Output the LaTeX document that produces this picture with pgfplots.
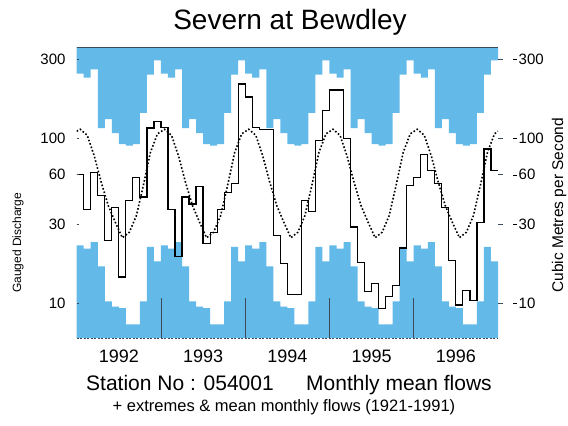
\documentclass[border=0pt]{standalone}
\usepackage{pgfplots}
\pgfplotsset{compat=1.18}
\usepackage{fontspec}
\setmainfont{Liberation Sans}
\definecolor{envblue}{RGB}{99,185,232}
\definecolor{framec}{RGB}{60,75,90}
\newcommand{\tdash}{\rule[0.3em]{4pt}{0.8pt}\hspace{1.5pt}}

\begin{document}
\begin{tikzpicture}[x=1pt,y=1pt]
\useasboundingbox (0,0) rectangle (568,426);
% data axis
\begin{axis}[at={(76.7pt,88pt)}, anchor=south west, scale only axis,
  width=421.3pt, height=290pt, ymode=log, xmin=0, xmax=60, ymin=6.2, ymax=350,
  axis on top,
  axis line style={draw=none},
  ytick=\empty,
  xtick={12,24,36,48}, xticklabels={},
  xtick pos=left, tick align=inside, major tick length=40pt,
  tick style={draw=framec, line width=0.8pt},
  extra x ticks={6,18,30,42,54},
  extra x tick labels={1992,1993,1994,1995,1996},
  extra x tick style={tick style={draw=none}},
  xticklabel style={font=\fontsize{18}{18}\selectfont, anchor=north, inner sep=0pt, yshift=-12pt},
]
% maximum monthly flows (upper shading)
\addplot[const plot, fill=envblue, draw=none] coordinates {
(0,245)(1,232)(2,260)(3,115)(4,130)(5,107)(6,92)(7,90)(8,92)(9,142)(10,242)(11,295)
(12,245)(13,232)(14,260)(15,115)(16,130)(17,107)(18,92)(19,90)(20,92)(21,142)(22,242)(23,295)
(24,245)(25,232)(26,260)(27,115)(28,130)(29,107)(30,92)(31,90)(32,92)(33,142)(34,242)(35,295)
(36,245)(37,232)(38,260)(39,115)(40,130)(41,107)(42,92)(43,90)(44,92)(45,142)(46,242)(47,295)
(48,245)(49,232)(50,260)(51,115)(52,130)(53,107)(54,92)(55,90)(56,92)(57,142)(58,242)(59,295)
(60,295)(60,1000)(0,1000)};
% minimum monthly flows (lower shading)
\addplot[const plot, fill=envblue, draw=none] coordinates {
(0,22.5)(1,21.5)(2,23.5)(3,16.8)(4,10.3)(5,9.6)(6,9.4)(7,7.5)(8,7.5)(9,10.3)(10,22)(11,18)
(12,22.5)(13,21.5)(14,23.5)(15,16.8)(16,10.3)(17,9.6)(18,9.4)(19,7.5)(20,7.5)(21,10.3)(22,22)(23,18)
(24,22.5)(25,21.5)(26,23.5)(27,16.8)(28,10.3)(29,9.6)(30,9.4)(31,7.5)(32,7.5)(33,10.3)(34,22)(35,18)
(36,22.5)(37,21.5)(38,23.5)(39,16.8)(40,10.3)(41,9.6)(42,9.4)(43,7.5)(44,7.5)(45,10.3)(46,22)(47,18)
(48,22.5)(49,21.5)(50,23.5)(51,16.8)(52,10.3)(53,9.6)(54,9.4)(55,7.5)(56,7.5)(57,10.3)(58,22)(59,18)
(60,18)(60,1)(0,1)};
% long-term mean monthly flows (plotted at mid-month)
\addplot[black, dash pattern=on 1.6pt off 2pt, line width=1.6pt] coordinates {
(0,110)
(0.5,113)(1.5,104)(2.5,78)(3.5,54)(4.5,39)(5.5,31)(6.5,25)(7.5,27)(8.5,34)(9.5,52)(10.5,82)(11.5,106)
(12.5,113)(13.5,104)(14.5,78)(15.5,54)(16.5,39)(17.5,31)(18.5,25)(19.5,27)(20.5,34)(21.5,52)(22.5,82)(23.5,106)
(24.5,113)(25.5,104)(26.5,78)(27.5,54)(28.5,39)(29.5,31)(30.5,25)(31.5,27)(32.5,34)(33.5,52)(34.5,82)(35.5,106)
(36.5,113)(37.5,104)(38.5,78)(39.5,54)(40.5,39)(41.5,31)(42.5,25)(43.5,27)(44.5,34)(45.5,52)(46.5,82)(47.5,106)
(48.5,113)(49.5,104)(50.5,78)(51.5,54)(52.5,39)(53.5,31)(54.5,25)(55.5,27)(56.5,34)(57.5,52)(58.5,82)(59.5,106)
(60,110)};
% monthly mean flows 1992-1996
\addplot[const plot, black, line width=1.2pt] coordinates {
(0,60)(1,37)(2,62)(3,45)(4,24)(5,38)(6,14.5)(7,42)(8,58)(9,44)(10,115)(11,126)
(12,116)(13,37)(14,19.2)(15,44)(16,40)(17,51)(18,23)(19,27)(20,37)(21,47)(22,53)(23,212)
(24,177)(25,116)(26,113)(27,113)(28,25.8)(29,17.4)(30,11.4)(31,11.4)(32,42)(33,36)(34,97)(35,147)
(36,195)(37,195)(38,99)(39,29)(40,17.8)(41,11.8)(42,13.2)(43,9.3)(44,11)(45,12.8)(46,21.7)(47,51.6)
(48,58)(49,80)(50,64)(51,53)(52,38)(53,18.2)(54,9.8)(55,12)(56,10.5)(57,31)(58,86)(59,64)
(60,64)};
\end{axis}
% right-hand scale and frame lines
\begin{axis}[at={(76.7pt,88pt)}, anchor=south west, scale only axis,
  width=421.3pt, height=290pt, ymode=log, xmin=0, xmax=60, ymin=6.2, ymax=350,
  clip=false,
  axis line style={draw=none},
  xtick=\empty,
  ytick={10,30,60,100,300}, yticklabels={\tdash10,\tdash30,\tdash60,\tdash100,\tdash300},
  ytick pos=right, yticklabel pos=right, tick align=outside, major tick length=5pt,
  tick style={draw=framec, line width=0.8pt},
  yticklabel style={font=\fontsize{15}{15}\selectfont, inner sep=0pt, anchor=west, xshift=10pt},
]
\draw[framec, line width=1pt] (rel axis cs:0,1) -- (rel axis cs:1,1);
\draw[framec, line width=0.9pt, dash pattern=on 2pt off 1.5pt] (rel axis cs:0,0) -- (rel axis cs:1,0);
\end{axis}
% left-hand scale
\begin{axis}[at={(76.7pt,88pt)}, anchor=south west, scale only axis,
  width=421.3pt, height=290pt, ymode=log, xmin=0, xmax=60, ymin=6.2, ymax=350,
  axis line style={draw=none},
  xtick=\empty,
  ytick={10,30,60,100,300}, yticklabels={10,30,60,100,300},
  ytick pos=left, yticklabel pos=left, tick align=inside, major tick length=2.5pt,
  tick style={draw=framec, line width=0.8pt},
  yticklabel style={font=\fontsize{15}{15}\selectfont, inner sep=0pt, anchor=east, xshift=-11pt},
]
\end{axis}
\node[font=\fontsize{28}{28}\selectfont, inner sep=0pt] at (290,404) {Severn at Bewdley};
\node[rotate=90, anchor=west, inner sep=0pt, font=\fontsize{12}{12}\selectfont] at (18,133) {Gauged Discharge};
\node[rotate=90, anchor=west, inner sep=0pt, font=\fontsize{15.5}{15.5}\selectfont] at (559,133) {Cubic Metres per Second};
\node[anchor=base west, inner sep=0pt, font=\fontsize{21}{21}\selectfont] at (86,35) {Station No : 054001};
\node[anchor=base west, inner sep=0pt, font=\fontsize{21}{21}\selectfont] at (306,35) {Monthly mean flows};
\node[anchor=base, inner sep=0pt, font=\fontsize{16.5}{16.5}\selectfont] at (284,14) {+ extremes \& mean monthly flows (1921-1991)};
\end{tikzpicture}
\end{document}
